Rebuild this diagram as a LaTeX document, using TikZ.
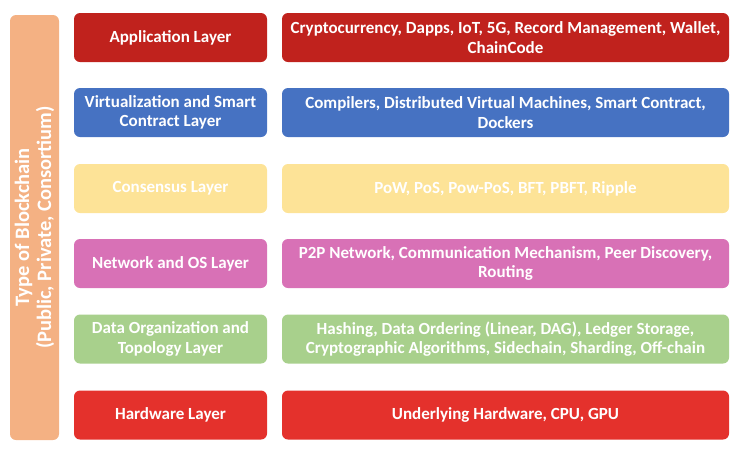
\documentclass[tikz,border=0pt]{standalone}
\usepackage{fontspec}
\setmainfont{Carlito}[BoldFont={Carlito Bold},UprightFont={Carlito}]
\begin{document}
\begin{tikzpicture}[x=1pt,y=-1pt,
  lay/.style={draw=none,rounded corners=6pt,text=white,font=\bfseries\fontsize{17}{19.5}\selectfont,align=center,inner sep=0pt},
  apc/.style={fill=appred},
  vir/.style={fill=virblue},
  con/.style={fill=conyel},
  net/.style={fill=netpink},
  dat/.style={fill=datgreen},
  hw/.style={fill=hwred}]
\definecolor{appred}{HTML}{C0221D}
\definecolor{virblue}{HTML}{4672C2}
\definecolor{conyel}{HTML}{FDE397}
\definecolor{netpink}{HTML}{D871B6}
\definecolor{datgreen}{HTML}{A8D08C}
\definecolor{hwred}{HTML}{E4312C}
\definecolor{typeorange}{HTML}{F4B183}
\useasboundingbox (0,0) rectangle (742,448);
% left bar
\node[lay,fill=typeorange,minimum width=425pt,minimum height=49pt,rotate=90,font=\bfseries\fontsize{20.5}{22}\selectfont] (type) at (34.5,227.5) {Type of Blockchain\\(Public, Private, Consortium)};
% boxes
\newcommand{\lbox}[4]{\node[lay,#1,minimum width=193pt,minimum height=49pt] (#2) at (170.5,#3) {#4};}
\newcommand{\rbox}[4]{\node[lay,#1,minimum width=447pt,minimum height=49pt] (#2) at (505.5,#3) {#4};}
\lbox{apc}{appL}{37.5}{Application Layer}
\rbox{apc}{appR}{37.5}{Cryptocurrency, Dapps, IoT, 5G, Record Management, Wallet,\\ChainCode}
\lbox{vir}{virL}{112.5}{Virtualization and Smart\\Contract Layer}
\rbox{vir}{virR}{112.5}{Compilers, Distributed Virtual Machines, Smart Contract,\\Dockers}
\lbox{con}{conL}{188.5}{Consensus Layer}
\rbox{con}{conR}{188.5}{PoW, PoS, Pow-PoS, BFT, PBFT, Ripple}
\lbox{net}{netL}{263.5}{Network and OS Layer}
\rbox{net}{netR}{263.5}{P2P Network, Communication Mechanism, Peer Discovery,\\Routing}
\lbox{dat}{datL}{339}{Data Organization and\\Topology Layer}
\rbox{dat}{datR}{339}{Hashing, Data Ordering (Linear, DAG), Ledger Storage,\\Cryptographic Algorithms, Sidechain, Sharding, Off-chain}
\lbox{hw}{hwL}{415}{Hardware Layer}
\rbox{hw}{hwR}{415}{Underlying Hardware, CPU, GPU}
\end{tikzpicture}
\end{document}
